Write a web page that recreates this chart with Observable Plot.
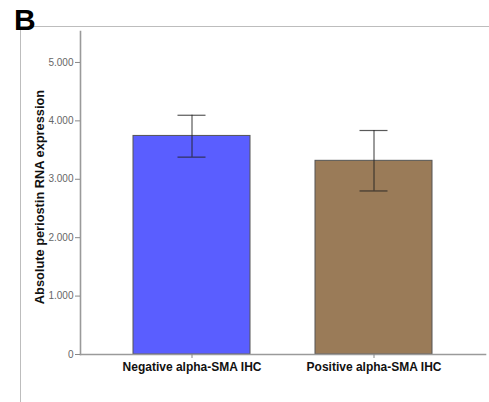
<!DOCTYPE html>
<html>
<head>
<meta charset="utf-8">
<script src="https://cdn.jsdelivr.net/npm/d3@7"></script>
<script src="https://cdn.jsdelivr.net/npm/@observablehq/plot@0.6"></script>
<style>
  html, body { margin: 0; padding: 0; background: #fff; }
  #wrap { position: relative; width: 489px; height: 402px; overflow: hidden;
          font-family: "Liberation Sans", Arial, Helvetica, sans-serif; }
  #panel { position: absolute; left: 20px; top: 26px; width: 469px; height: 376px;
           border-top: 1px solid #bdbdbd; border-left: 1px solid #bdbdbd; box-sizing: border-box; }
  #letter { position: absolute; left: 14px; top: 3px; font-size: 30px; font-weight: bold;
            line-height: 34px; color: #000; }
  #chart { position: absolute; left: 0; top: 0; }
</style>
</head>
<body>
<div id="wrap">
  <div id="panel"></div>
  <div id="chart"></div>
  <div id="letter">B</div>
</div>
<script>
// Periostin expression by alpha-SMA IHC status: means with error bars
const groups = ["Negative alpha-SMA IHC", "Positive alpha-SMA IHC"];
const means = [3742, 3316];
const lower = [3379, 2800];
const upper = [4096, 3835];
const colors = ["#5a5eff", "#9a7b58"];
const yTicks = [0, 1000, 2000, 3000, 4000, 5000];
const yLabel = "Absolute periostin RNA expression";

const rows = groups.map((g, i) => ({group: g, mean: means[i], lo: lower[i], hi: upper[i]}));

// thousands shown with a period, e.g. 5.000
const fmt = d3.formatLocale({decimal: ",", thousands: ".", grouping: [3], currency: ["", ""]}).format(",");

const font = '"Liberation Sans", Arial, Helvetica, sans-serif';

const chart = Plot.plot({
  width: 489,
  height: 402,
  marginLeft: 80,
  marginRight: 4,
  marginTop: 31,
  marginBottom: 48,
  style: {fontFamily: font, background: "transparent", overflow: "visible"},
  x: {domain: groups, paddingInner: 0.355, paddingOuter: 0.29, label: null},
  y: {domain: [0, 5530], label: null},
  color: {domain: groups, range: colors},
  marks: [
    Plot.barY(rows, {x: "group", y: "mean", fill: "group", stroke: "#555", strokeWidth: 1}),
    Plot.ruleX(rows, {x: "group", y1: "lo", y2: "hi", stroke: "#222", strokeOpacity: 0.75, strokeWidth: 1.2}),
    Plot.tickY(rows, {x: "group", y: "lo", stroke: "#222", strokeOpacity: 0.75, strokeWidth: 1.2, insetLeft: 44.5, insetRight: 44.5}),
    Plot.tickY(rows, {x: "group", y: "hi", stroke: "#222", strokeOpacity: 0.75, strokeWidth: 1.2, insetLeft: 44.5, insetRight: 44.5}),
    Plot.frame({anchor: "left", stroke: "#9a9a9a", strokeWidth: 1.6}),
    Plot.frame({anchor: "bottom", stroke: "#9a9a9a", strokeWidth: 1.6}),
    Plot.axisY({ticks: yTicks, tickFormat: fmt, tickSize: 5, tickPadding: 2, fontSize: 10, color: "#666", stroke: "#888", label: null}),
    Plot.axisX({tickSize: 4, tickPadding: 4, fontSize: 12, fontWeight: "bold", color: "#111", stroke: "#888", label: null}),
    Plot.text([yLabel], {frameAnchor: "left", textAnchor: "middle", rotate: -90, dx: -41, dy: 4, fontSize: 12.8, fontWeight: "bold", fill: "#111"})
  ]
});

document.getElementById("chart").appendChild(chart);
</script>
</body>
</html>
